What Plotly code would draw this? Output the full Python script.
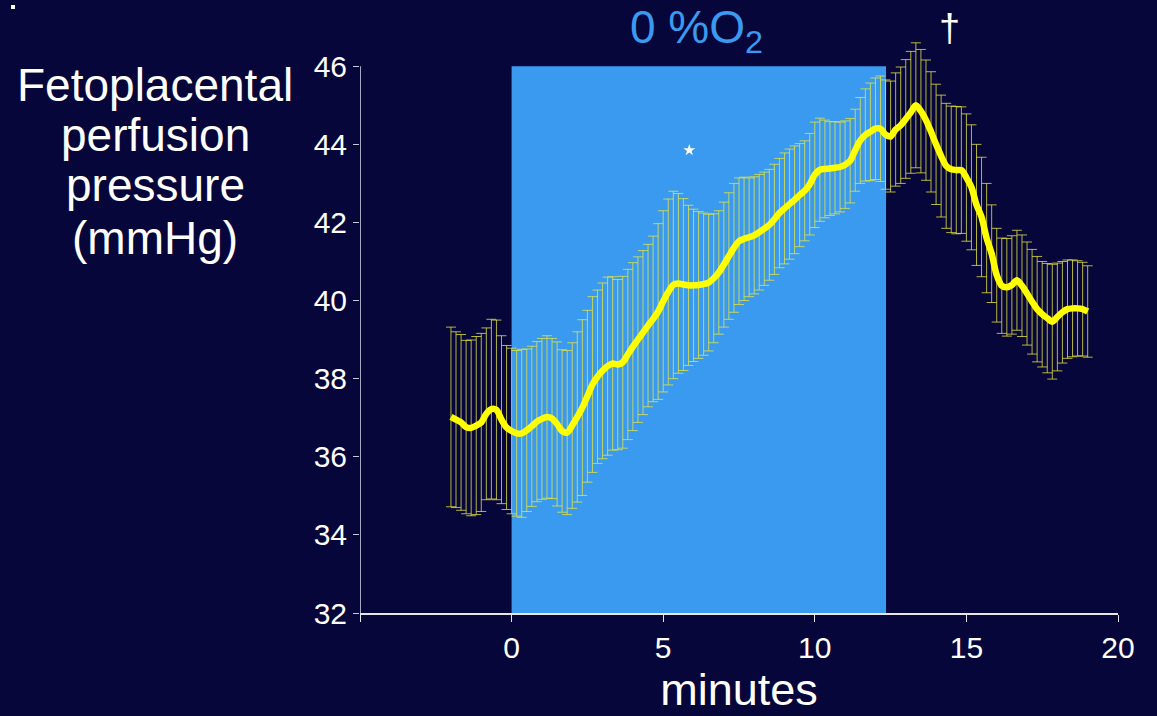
import plotly.graph_objects as go

# ---- data ----
t_start = -2.0
t_step = 1.0 / 6.0   # one sample every 10 s

mean_pressure = [
    37.02, 36.95, 36.88, 36.76, 36.74, 36.80, 36.88, 37.10, 37.22, 37.20,
    36.95, 36.75, 36.66, 36.60, 36.60, 36.68, 36.78, 36.90, 36.97, 37.02,
    36.98, 36.84, 36.66, 36.62, 36.80, 37.02, 37.26, 37.55, 37.85, 38.05,
    38.20, 38.32, 38.39, 38.36, 38.42, 38.62, 38.82, 39.00, 39.18, 39.36,
    39.53, 39.72, 39.98, 40.22, 40.40, 40.44, 40.41, 40.39, 40.39, 40.40,
    40.42, 40.46, 40.57, 40.72, 40.92, 41.14, 41.35, 41.52, 41.58, 41.62,
    41.67, 41.75, 41.84, 41.94, 42.08, 42.24, 42.36, 42.47, 42.58, 42.70,
    42.81, 42.98, 43.22, 43.35, 43.37, 43.38, 43.40, 43.42, 43.48, 43.58,
    43.85, 44.10, 44.24, 44.32, 44.40, 44.40, 44.25, 44.20, 44.38, 44.49,
    44.65, 44.82, 45.00, 44.85, 44.62, 44.32, 44.00, 43.70, 43.45, 43.36,
    43.34, 43.34, 43.15, 42.90, 42.45, 42.14, 41.60, 41.20, 40.65, 40.38,
    40.34, 40.40, 40.52, 40.38, 40.18, 39.97, 39.78, 39.65, 39.55, 39.46,
    39.58, 39.70, 39.78, 39.80, 39.80, 39.78, 39.72,
]

sem_pressure = [
    2.30, 2.25, 2.25, 2.22, 2.25, 2.28, 2.28, 2.20, 2.30, 2.30,
    2.15, 2.10, 2.12, 2.12, 2.15, 2.08, 2.05, 2.05, 2.06, 2.08,
    2.05, 2.10, 2.08, 2.10, 2.12, 2.18, 2.25, 2.20, 2.25, 2.22,
    2.25, 2.28, 2.22, 2.18, 2.20, 2.18, 2.15, 2.12, 2.10, 2.08,
    2.12, 2.25, 2.32, 2.38, 2.40, 2.30, 2.20, 2.05, 1.95, 1.88,
    1.82, 1.75, 1.65, 1.58, 1.60, 1.62, 1.65, 1.62, 1.58, 1.52,
    1.50, 1.48, 1.45, 1.42, 1.41, 1.40, 1.42, 1.41, 1.38, 1.32,
    1.28, 1.30, 1.35, 1.32, 1.25, 1.20, 1.18, 1.15, 1.12, 1.08,
    1.05, 1.10, 1.18, 1.25, 1.30, 1.35, 1.40, 1.42, 1.45, 1.49,
    1.52, 1.56, 1.60, 1.58, 1.54, 1.54, 1.54, 1.56, 1.60, 1.62,
    1.63, 1.62, 1.63, 1.60, 1.55, 1.53, 1.40, 1.25, 1.20, 1.22,
    1.25, 1.26, 1.28, 1.30, 1.32, 1.34, 1.35, 1.35, 1.40, 1.47,
    1.38, 1.30, 1.26, 1.24, 1.22, 1.20, 1.17,
]

minutes = [t_start + i * t_step for i in range(len(mean_pressure))]

hypoxia_start = 0.0
hypoxia_end = 12.35
star_point = (5.86, 43.85)

y_axis_min, y_axis_max = 32, 46      # drawn axis extent
y_view_max = 46.8                     # head-room so error caps above 46 show

y_title_lines = ["Fetoplacental", "perfusion", "pressure", "(mmHg)"]

x_tickvals = [-5, 0, 5, 10, 15, 20]
x_ticktext = ["", "0", "5", "10", "15", "20"]
y_tickvals = [32, 34, 36, 38, 40, 42, 44, 46]

BG = "#06063a"
FONT = "Liberation Sans, Arial, Helvetica, sans-serif"

# layout geometry (pixels)
W, H = 1157, 716
ML, MR, MT, MB = 360, 39, 35, 103
plot_h = H - MT - MB
plot_w = W - ML - MR


def py_to_paper(py):
    return (H - MB - py) / plot_h


def px_to_paper(px):
    return (px - ML) / plot_w


fig = go.Figure()

# error bars (SEM)
fig.add_trace(go.Scatter(
    x=minutes, y=mean_pressure, mode="markers",
    marker=dict(size=1, color="rgba(0,0,0,0)"),
    error_y=dict(type="data", array=sem_pressure, visible=True,
                 color="rgba(230,230,60,0.78)", thickness=1, width=5),
    hoverinfo="skip", showlegend=False,
))

# mean line
fig.add_trace(go.Scatter(
    x=minutes, y=mean_pressure, mode="lines",
    line=dict(color="#ffff00", width=6.5, shape="spline", smoothing=0.8),
    showlegend=False,
))

# star marker
fig.add_trace(go.Scatter(
    x=[star_point[0]], y=[star_point[1]], mode="markers",
    marker=dict(symbol="star", size=9, color="white", line=dict(width=0)),
    showlegend=False,
))

# hypoxia period
fig.add_shape(type="rect", xref="x", yref="y",
              x0=hypoxia_start, x1=hypoxia_end, y0=y_axis_min, y1=y_axis_max,
              fillcolor="#3a9af0", line=dict(width=0), layer="below")

# y axis line drawn only from 32 to 46
fig.add_shape(type="line", xref="x", yref="y",
              x0=-5, x1=-5, y0=y_axis_min, y1=y_axis_max,
              line=dict(color="#a8a8c0", width=2))

fig.add_annotation(x=6.1, y=py_to_paper(62), xref="x", yref="paper",
                   text="0 %O<sub>2</sub>", showarrow=False,
                   xanchor="center", yanchor="bottom",
                   font=dict(size=46, color="#3a9af0", family=FONT))

fig.add_annotation(x=14.44, y=py_to_paper(28), xref="x", yref="paper",
                   text="†", showarrow=False,
                   xanchor="center", yanchor="middle",
                   font=dict(size=38, color="white", family=FONT))

# y-axis title, one annotation per line
for line_text, py in zip(y_title_lines, [85, 135, 185, 238]):
    fig.add_annotation(x=px_to_paper(155), y=py_to_paper(py),
                       xref="paper", yref="paper",
                       text=line_text, showarrow=False,
                       xanchor="center", yanchor="middle",
                       font=dict(size=46, color="white", family=FONT))

# stray dot top-left
fig.add_shape(type="rect", xref="paper", yref="paper",
              x0=px_to_paper(11), x1=px_to_paper(15),
              y0=py_to_paper(9), y1=py_to_paper(5),
              fillcolor="white", line=dict(width=0))

fig.update_layout(
    width=W, height=H,
    paper_bgcolor=BG, plot_bgcolor=BG,
    margin=dict(l=ML, r=MR, t=MT, b=MB),
    font=dict(family=FONT, color="white"),
    xaxis=dict(range=[-5, 20], tickvals=x_tickvals, ticktext=x_ticktext,
               showgrid=False, zeroline=False, showline=True,
               linecolor="#e6e6e6", linewidth=2, ticks="outside",
               ticklen=7, tickwidth=1, tickcolor="#e6e6e6",
               tickfont=dict(size=30, color="white"),
               title=dict(text="minutes", font=dict(size=45, color="white"),
                          standoff=4)),
    yaxis=dict(range=[y_axis_min, y_view_max], tickvals=y_tickvals,
               showgrid=False, zeroline=False, showline=False,
               ticks="outside", ticklen=6, tickwidth=1, tickcolor="#c8c8d8",
               tickfont=dict(size=30, color="white")),
)

fig.write_html("out.html")
